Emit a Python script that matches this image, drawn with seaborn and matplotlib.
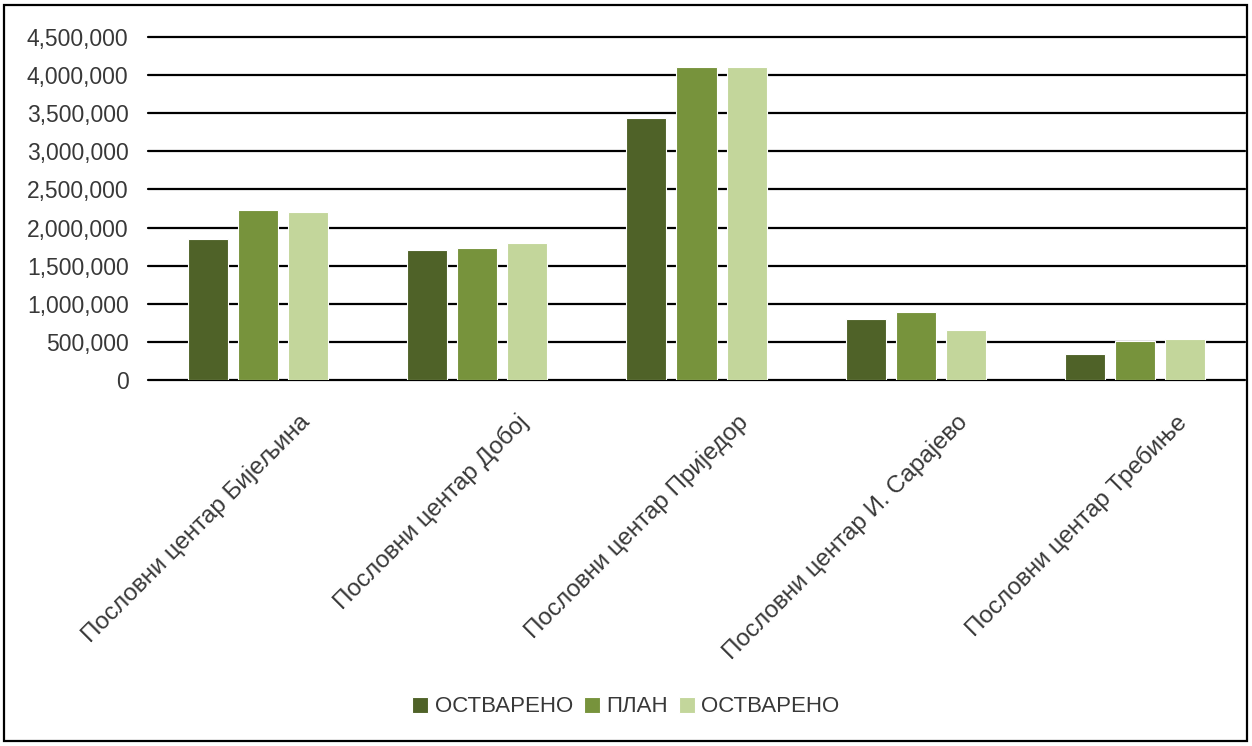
import matplotlib
matplotlib.use("Agg")
import matplotlib.pyplot as plt
import matplotlib.transforms as mtransforms
from matplotlib.patches import Rectangle
import pandas as pd
import seaborn as sns

categories = [
    "Пословни центар Бијељина",
    "Пословни центар Добој",
    "Пословни центар Приједор",
    "Пословни центар И. Сарајево",
    "Пословни центар Требиње",
]
ostvareno_1 = [1850000, 1705000, 3435000, 800000, 340000]
plan = [2230000, 1730000, 4105000, 890000, 510000]
ostvareno_2 = [2205000, 1795000, 4100000, 655000, 540000]

series_keys = ["s1", "s2", "s3"]
series_labels = ["ОСТВАРЕНО", "ПЛАН", "ОСТВАРЕНО"]
colors = ["#4f6228", "#77933c", "#c3d69b"]

df = pd.DataFrame({
    "category": categories * 3,
    "series": [k for k in series_keys for _ in categories],
    "value": ostvareno_1 + plan + ostvareno_2,
})

sns.set_theme(style="white")
plt.rcParams["font.family"] = ["Liberation Sans", "DejaVu Sans"]
text_color = "#383838"

fig = plt.figure(figsize=(12.52, 7.46), dpi=100)
ax = fig.add_axes([148 / 1252, 1 - 380 / 746, 1097 / 1252, 343 / 746])

sns.barplot(
    data=df, x="category", y="value", hue="series", hue_order=series_keys,
    palette=colors, width=0.684, gap=0.2, ax=ax,
    edgecolor="white", linewidth=0.8, saturation=1, zorder=3,
)

ax.set_ylim(0, 4500000)
ax.set_xlim(-0.5, len(categories) - 0.5)
ax.set_yticks(range(0, 4500001, 500000))
ax.yaxis.set_major_formatter(matplotlib.ticker.FuncFormatter(lambda v, p: f"{int(v):,}"))
ax.grid(axis="y", color="black", linewidth=1.6, zorder=0)
ax.set_axisbelow(True)
for line in ax.get_ygridlines():
    line.set_clip_on(False)
for s in ax.spines.values():
    s.set_visible(False)
ax.set_xlabel("")
ax.set_ylabel("")
ax.tick_params(axis="y", length=0, pad=14, labelsize=16.5, labelcolor=text_color)
ax.tick_params(axis="x", length=0, pad=22, labelsize=17.5, labelcolor=text_color)

offset = mtransforms.ScaledTranslation(0.40, 0, fig.dpi_scale_trans)
for lbl in ax.get_xticklabels():
    lbl.set_rotation(45)
    lbl.set_ha("right")
    lbl.set_va("top")
    lbl.set_rotation_mode("anchor")
    lbl.set_transform(lbl.get_transform() + offset)

handles, _ = ax.get_legend_handles_labels()
ax.get_legend().remove()
fig.legend(
    handles, series_labels, loc="center", bbox_to_anchor=(0.5, 1 - 707 / 746),
    ncol=3, frameon=False, fontsize=16, labelcolor=text_color,
    handlelength=0.7, handleheight=0.7, handletextpad=0.3, columnspacing=0.5,
)

fig.patches.append(Rectangle((4 / 1252, 5 / 746), 1243 / 1252, 736 / 746,
                             transform=fig.transFigure, fill=False,
                             edgecolor="black", linewidth=1.6))

fig.savefig("out.png", dpi=100)
